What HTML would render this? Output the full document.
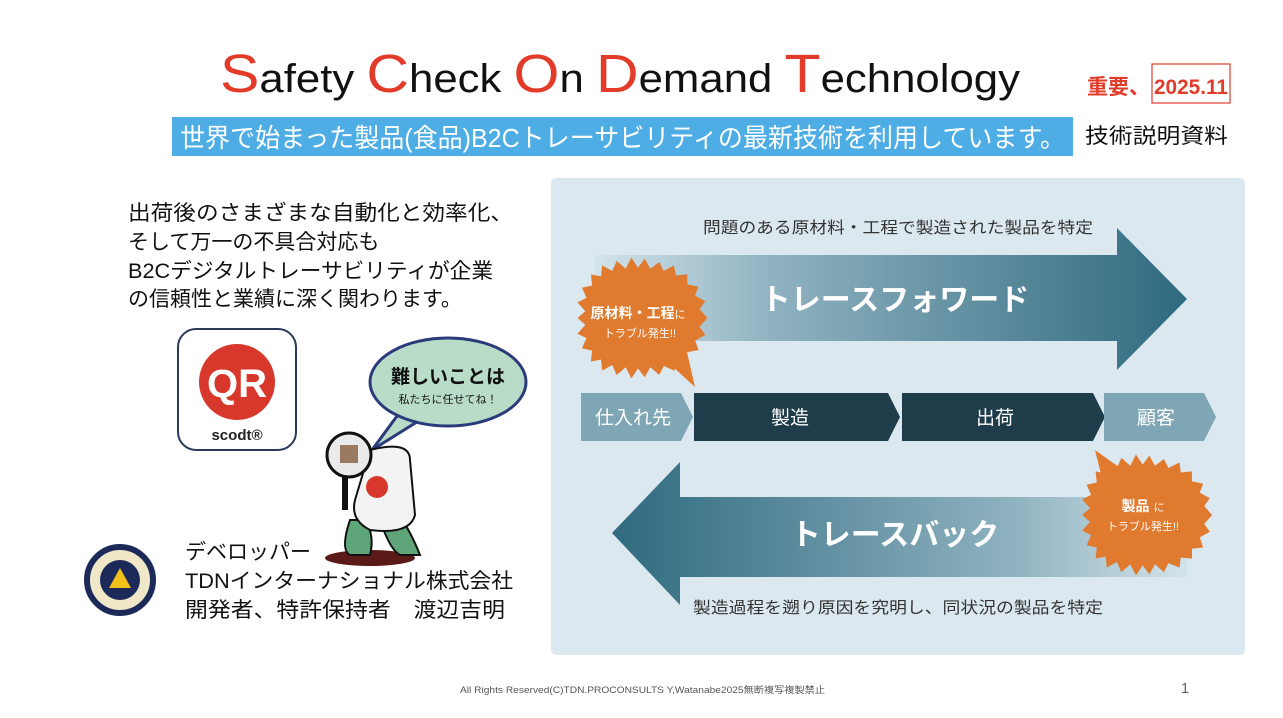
<!DOCTYPE html>
<html><head><meta charset="utf-8"><style>
html,body{margin:0;padding:0;background:#fff;width:1283px;height:718px;overflow:hidden}
svg{display:block}
text{font-family:"Liberation Sans","Noto Sans CJK JP",sans-serif}
</style></head><body>
<svg width="1283" height="718" viewBox="0 0 1283 718" xmlns="http://www.w3.org/2000/svg">
<defs>
<linearGradient id="gf" x1="0" x2="1" y1="0" y2="0">
<stop offset="0" stop-color="#d3e3ea"/><stop offset="0.3" stop-color="#8fb2c0"/><stop offset="1" stop-color="#2f6a7f"/></linearGradient>
<linearGradient id="gb" x1="0" x2="1" y1="0" y2="0">
<stop offset="0" stop-color="#2f6a7f"/><stop offset="0.7" stop-color="#8fb2c0"/><stop offset="1" stop-color="#d3e3ea"/></linearGradient>
</defs>
<!-- title -->
<text x="220" y="92" font-size="40" fill="#111" textLength="800" lengthAdjust="spacingAndGlyphs"><tspan fill="#e33b2a" font-size="54">S</tspan>afety <tspan fill="#e33b2a" font-size="54">C</tspan>heck <tspan fill="#e33b2a" font-size="54">O</tspan>n <tspan fill="#e33b2a" font-size="54">D</tspan>emand <tspan fill="#e33b2a" font-size="54">T</tspan>echnology</text>
<text x="1087" y="94" font-size="21" font-weight="bold" fill="#e33b2a">重要、</text>
<rect x="1152" y="64" width="78" height="39" fill="none" stroke="#e33b2a" stroke-width="1.2"/>
<text x="1154" y="94" font-size="21" font-weight="bold" fill="#e33b2a" textLength="74" lengthAdjust="spacingAndGlyphs">2025.11</text>
<rect x="172" y="117" width="901" height="39" fill="#4fade6"/>
<text x="180" y="147" font-size="26" fill="#fff" textLength="885" lengthAdjust="spacingAndGlyphs">世界で始まった製品(食品)B2Cトレーサビリティの最新技術を利用しています。</text>
<text x="1085" y="143" font-size="21" fill="#111" textLength="143" lengthAdjust="spacingAndGlyphs">技術説明資料</text>
<!-- left text -->
<g font-size="21" fill="#111">
<text x="128" y="220" textLength="385" lengthAdjust="spacingAndGlyphs">出荷後のさまざまな自動化と効率化、</text>
<text x="128" y="249">そして万一の不具合対応も</text>
<text x="128" y="278" textLength="365" lengthAdjust="spacingAndGlyphs">B2Cデジタルトレーサビリティが企業</text>
<text x="128" y="306">の信頼性と業績に深く関わります。</text>
</g>
<!-- QR icon -->
<rect x="178" y="329" width="118" height="121" rx="18" fill="#fff" stroke="#2b3a5a" stroke-width="2"/>
<circle cx="237" cy="382" r="38" fill="#d8382b"/>
<text x="237" y="397" text-anchor="middle" font-size="40" fill="#fff" font-weight="bold">QR</text>
<text x="237" y="440" text-anchor="middle" font-size="15" font-weight="bold" fill="#222">scodt®</text>
<!-- bubble -->
<path d="M400 412 L372 450 L420 420 Z" fill="#b9dcc8" stroke="#2b3a7a" stroke-width="3"/>
<ellipse cx="448" cy="382" rx="78" ry="44" fill="#b9dcc8" stroke="#2b3a7a" stroke-width="3"/>
<text x="448" y="383" text-anchor="middle" font-size="19" font-weight="bold" fill="#111">難しいことは</text>
<text x="448" y="403" text-anchor="middle" font-size="11" fill="#111">私たちに任せてね！</text>
<!-- character -->
<ellipse cx="370" cy="558" rx="45" ry="8" fill="#5a1a18"/>
<path d="M350 520 q-10 30 0 35 h20 q5 -20 -5 -35 Z" fill="#5fa57a" stroke="#111" stroke-width="2"/>
<path d="M380 520 q10 30 20 35 h20 q-10 -25 -20 -38 Z" fill="#5fa57a" stroke="#111" stroke-width="2"/>
<path d="M370 450 q40 -10 40 10 l5 55 q-5 20 -45 15 q-20 -10 -15 -30 Z" fill="#f3f3f3" stroke="#111" stroke-width="2"/>
<circle cx="377" cy="487" r="11" fill="#d8382b"/>
<line x1="345" y1="470" x2="345" y2="510" stroke="#111" stroke-width="6"/>
<circle cx="349" cy="455" r="22" fill="#eaeaea" stroke="#111" stroke-width="3"/>
<rect x="340" y="445" width="18" height="18" fill="#9a7a60"/>
<!-- TDN logo -->
<circle cx="120" cy="580" r="33" fill="#f0e6c8" stroke="#1c2a5a" stroke-width="6"/>
<circle cx="120" cy="580" r="20" fill="#1c2a5a"/>
<path d="M120 568 L131 588 L109 588 Z" fill="#f2c21a"/>
<g font-size="21" fill="#111">
<text x="185" y="559">デベロッパー</text>
<text x="185" y="588" textLength="328" lengthAdjust="spacingAndGlyphs">TDNインターナショナル株式会社</text>
<text x="185" y="617" textLength="320" lengthAdjust="spacingAndGlyphs">開発者、特許保持者　渡辺吉明</text>
</g>
<!-- panel -->
<rect x="551" y="178" width="694" height="477" rx="5" fill="#dce8ef"/>
<text x="703" y="233" font-size="16" fill="#333" textLength="390" lengthAdjust="spacingAndGlyphs">問題のある原材料・工程で製造された製品を特定</text>
<path d="M595 255 H1117 V228 L1187 299 L1117 370 V341 H595 Z" fill="url(#gf)"/>
<text x="895" y="310" text-anchor="middle" font-size="30" font-weight="bold" fill="#fff">トレースフォワード</text>
<path d="M1187 497 H680 V462 L612 533 L680 605 V577 H1187 Z" fill="url(#gb)"/>
<text x="895" y="545" text-anchor="middle" font-size="30" font-weight="bold" fill="#fff">トレースバック</text>
<text x="693" y="613" font-size="16" fill="#333" textLength="410" lengthAdjust="spacingAndGlyphs">製造過程を遡り原因を究明し、同状況の製品を特定</text>
<!-- process bar -->
<path d="M581 393 H681 L693 417 L681 441 H581 Z" fill="#7fa6b4"/>
<path d="M694 393 H888 L900 417 L888 441 H694 Z" fill="#1e3c4a"/>
<path d="M902 393 H1093 L1105 417 L1093 441 H902 Z" fill="#1e3c4a"/>
<path d="M1104 393 H1204 L1216 417 L1204 441 H1104 Z" fill="#7fa6b4"/>
<g font-size="19" fill="#fff" text-anchor="middle">
<text x="633" y="424">仕入れ先</text>
<text x="790" y="424">製造</text>
<text x="995" y="424">出荷</text>
<text x="1156" y="424">顧客</text>
</g>
<!-- starbursts -->
<g transform="translate(638 318) scale(1.12) translate(-638 -318)">
<polygon fill="#e07a2e" points="700,318 692.9,325.8 698.2,333.1 689.0,338.1 692.1,346.6 681.8,348.5 682.5,357.5 672.3,356.3 670.5,365.1 661.1,360.9 656.9,368.8 649,362 644,371 638,363 632,372 627,362 619,369 615,360 606,365 605,355 596,357 597,347 588,345 592,336 584,332 591,324 584,318 591,312 584,304 592,300 588,291 597,289 596,279 605,281 606,271 615,276 619,267 627,274 632,264 638,273 644,265 649,274 657,268 661,276 670,271 672,280 682,279 682,288 692,290 689,298 698,303 693,310"/>
</g>
<path d="M660 355 L695 387 L683 335 Z" fill="#e07a2e"/>
<g transform="translate(1146 515) scale(1.12) translate(-1146 -515)">
<polygon fill="#e07a2e" points="1205,515 1198,523 1203,530 1194,535 1197,544 1187,545 1187,554 1177,553 1176,562 1166,558 1162,566 1154,559 1149,568 1143,560 1137,569 1132,559 1124,566 1120,557 1111,562 1110,552 1101,554 1102,544 1093,542 1097,533 1089,529 1096,521 1089,515 1096,509 1089,501 1097,497 1093,488 1102,486 1101,476 1110,478 1111,468 1120,473 1124,464 1132,471 1137,461 1143,470 1149,462 1154,471 1162,465 1166,473 1176,468 1177,477 1187,476 1187,485 1197,487 1194,495 1203,500 1198,507"/>
</g>
<path d="M1095 450 L1130 475 L1105 490 Z" fill="#e07a2e"/>
<text x="638" y="318" text-anchor="middle" font-size="14" font-weight="bold" fill="#fff">原材料・工程<tspan font-size="11" font-weight="normal">に</tspan></text>
<text x="640" y="337" text-anchor="middle" font-size="11" fill="#fff">トラブル発生!!</text>
<text x="1143" y="511" text-anchor="middle" font-size="14" font-weight="bold" fill="#fff">製品 <tspan font-size="11" font-weight="normal">に</tspan></text>
<text x="1143" y="530" text-anchor="middle" font-size="11" fill="#fff">トラブル発生!!</text>
<!-- footer -->
<text x="460" y="693" font-size="9" fill="#555" textLength="365" lengthAdjust="spacingAndGlyphs">All Rights Reserved(C)TDN.PROCONSULTS Y,Watanabe2025無断複写複製禁止</text>
<text x="1185" y="693" text-anchor="middle" font-size="15" fill="#666" font-family="Liberation Serif,serif">1</text>
</svg>
</body></html>
